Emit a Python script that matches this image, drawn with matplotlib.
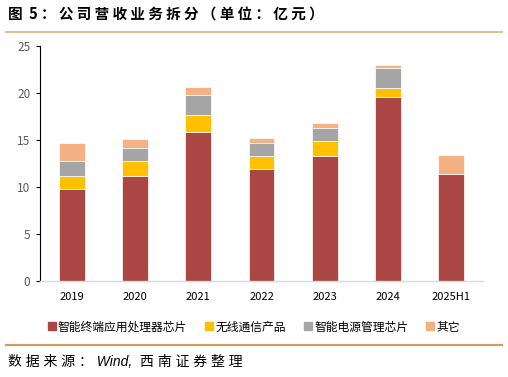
import numpy as np
import matplotlib.pyplot as plt
from matplotlib.lines import Line2D

plt.rcParams['font.family'] = ['Noto Sans CJK SC', 'DejaVu Sans']

years = ['2019', '2020', '2021', '2022', '2023', '2024', '2025H1']
proc = [9.77, 11.18, 15.87, 11.86, 13.30, 19.56, 11.37]
wireless = [1.41, 1.57, 1.78, 1.46, 1.53, 0.96, 0.0]
power = [1.60, 1.35, 2.13, 1.38, 1.47, 2.16, 0.0]
other = [1.88, 0.96, 0.85, 0.46, 0.47, 0.26, 1.98]

names = ['智能终端应用处理器芯片', '无线通信产品', '智能电源管理芯片', '其它']
colors = ['#AA4643', '#FFC000', '#A5A5A5', '#F4B183']

fig = plt.figure(figsize=(5.08, 3.77), dpi=100)
ax = fig.add_axes([40 / 508, 1 - 280.7 / 377, 443 / 508, 234.7 / 377])

x = np.arange(len(years))
bottom = np.zeros(len(years))
for vals, c, n in zip([proc, wireless, power, other], colors, names):
    vals = np.array(vals)
    ax.bar(x, vals, 0.41, bottom=bottom, color=c, label=n,
           edgecolor='white', linewidth=0.5)
    bottom += vals

ax.set_xlim(-0.5, 6.5)
ax.set_ylim(0, 25)
ax.set_yticks(range(0, 26, 5))
ax.set_xticks(x)
ax.set_xticklabels(years)
for s in ['top', 'right']:
    ax.spines[s].set_visible(False)
ax.spines['left'].set_color('black')
ax.spines['left'].set_linewidth(0.8)
ax.spines['bottom'].set_color('#D9D9D9')
ax.spines['bottom'].set_linewidth(1.0)
ax.tick_params(axis='y', direction='out', length=3, colors='black',
               labelcolor='#595959', labelsize=8.5, pad=4)
ax.tick_params(axis='x', length=0, labelcolor='black', labelsize=8, pad=8)

handles = [Line2D([], [], marker='s', linestyle='', markersize=6,
                  markerfacecolor=c, markeredgecolor=c) for c in colors]
fig.legend(handles, names, loc='center', bbox_to_anchor=(0.5, 1 - 327 / 377),
           ncol=4, frameon=False, fontsize=8.5, handlelength=0.6,
           handletextpad=0.2, columnspacing=1.6)

title = ' '.join('图5：公司营收业务拆分（单位：亿元）').replace('图 5', '图  5')
fig.text(8 / 508, 1 - 15 / 377, title,
         fontsize=10.5, fontweight='bold', va='center', ha='left')
fig.add_artist(Line2D([6 / 508, 502 / 508], [1 - 32 / 377, 1 - 32 / 377],
                      color='#D8B57C', linewidth=1.2))
fig.add_artist(Line2D([6 / 508, 502 / 508], [1 - 345 / 377, 1 - 345 / 377],
                      color='#C9A063', linewidth=1.6))
fig.text(8 / 508, 1 - 362 / 377, '数 据 来 源 ： Wind,  西 南 证 券 整 理',
         fontsize=10, style='italic', va='center', ha='left',
         family=['Liberation Sans', 'Noto Sans CJK SC'])

fig.savefig('out.png', dpi=100)
